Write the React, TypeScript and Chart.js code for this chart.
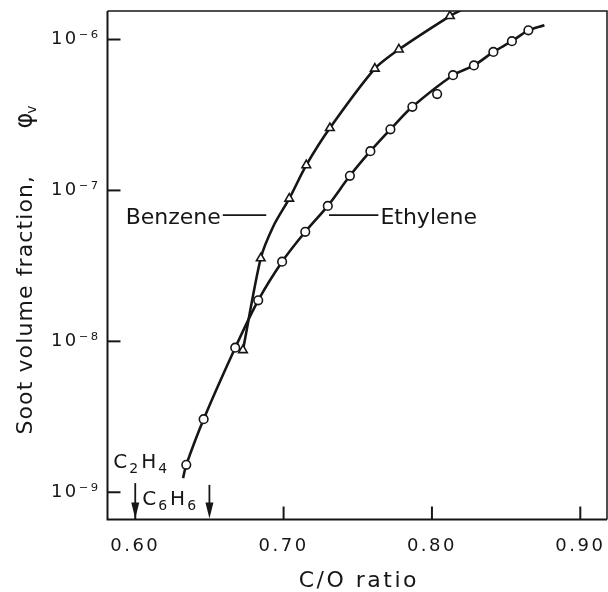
import React, { useEffect, useRef } from 'react';
import { Chart, registerables } from 'chart.js';

Chart.register(...registerables);

// ---- data ----
const ethyleneX = [0.6344, 0.6461, 0.6674, 0.6829, 0.699, 0.7146, 0.7298, 0.7447, 0.7585, 0.772, 0.7868, 0.8035, 0.8142, 0.8283, 0.8414, 0.8539, 0.865];
const ethyleneY = [1.52e-9, 3.05e-9, 9.08e-9, 1.87e-8, 3.37e-8, 5.32e-8, 7.9e-8, 1.25e-7, 1.82e-7, 2.54e-7, 3.58e-7, 4.35e-7, 5.8e-7, 6.73e-7, 8.27e-7, 9.75e-7, 1.15e-6];
const benzeneX = [0.6726, 0.6846, 0.7038, 0.7153, 0.7312, 0.7615, 0.7777, 0.8121];
const benzeneY = [8.75e-9, 3.55e-8, 8.83e-8, 1.47e-7, 2.59e-7, 6.41e-7, 8.59e-7, 1.43e-6];

// smooth fitted curves drawn through the data
const ethyleneCurveX = [0.6322, 0.6344, 0.6461, 0.6674, 0.6829, 0.699, 0.7146, 0.7298, 0.7447, 0.7585, 0.772, 0.7868, 0.8142, 0.8283, 0.8414, 0.8539, 0.865, 0.8758];
const ethyleneCurveY = [1.24e-9, 1.52e-9, 3.05e-9, 9.08e-9, 1.87e-8, 3.37e-8, 5.32e-8, 7.9e-8, 1.25e-7, 1.82e-7, 2.54e-7, 3.58e-7, 5.8e-7, 6.73e-7, 8.27e-7, 9.75e-7, 1.15e-6, 1.245e-6];
const benzeneCurveX = [0.6726, 0.6846, 0.6935, 0.7038, 0.7153, 0.7312, 0.7615, 0.7777, 0.8121, 0.8195];
const benzeneCurveY = [8.75e-9, 3.55e-8, 5.9e-8, 8.83e-8, 1.47e-7, 2.59e-7, 6.41e-7, 8.59e-7, 1.43e-6, 1.56e-6];

// axes
const xMin = 0.5813;
const xMax = 0.918;
const yMin = 6.6e-10;
const yMax = 1.545e-6;
const xTicks = [0.6, 0.7, 0.8, 0.9];
const xTickLabels = ['0.60', '0.70', '0.80', '0.90'];
const yTicks = [1e-9, 1e-8, 1e-7, 1e-6];
const yTickLabels = ['10⁻⁹', '10⁻⁸', '10⁻⁷', '10⁻⁶'];
const xTitle = 'C/O ratio';
const yTitle = 'Soot volume fraction,';

// annotations (data space)
const onsetArrowX = [0.6, 0.65];
const onsetArrowTopY = [1.15e-9, 1.12e-9];
const leaderY = 6.86e-8;
const benzeneLeader = [0.659, 0.6883];
const ethyleneLeader = [0.7306, 0.7639];
const c2h4Anchor = { x: 0.5852, y: 1.45e-9 };
const c6h6Anchor = { x: 0.6047, y: 8.24e-10 };
const xTitleCenter = 0.7507;

const INK = '#161616';
const FONT = '"DejaVu Sans", sans-serif';

function drawFormula(ctx: CanvasRenderingContext2D, parts: [string, boolean][], x: number, y: number) {
  let cx = x;
  for (const [t, sub] of parts) {
    ctx.font = sub ? `14px ${FONT}` : `20px ${FONT}`;
    ctx.fillText(t, cx, sub ? y + 5 : y);
    cx += ctx.measureText(t).width + (sub ? 2 : 1);
  }
}

const decorPlugin = {
  id: 'decor',
  beforeDraw(chart: any) {
    (chart.ctx as any).letterSpacing = '2.5px';
  },
  afterDraw(chart: any) {
    const ctx: CanvasRenderingContext2D = chart.ctx;
    const a = chart.chartArea;
    const xs = chart.scales.x;
    const ys = chart.scales.y;
    ctx.save();
    (ctx as any).letterSpacing = '0px';
    ctx.strokeStyle = INK;
    ctx.fillStyle = INK;
    ctx.lineCap = 'butt';

    // frame
    ctx.lineWidth = 2;
    ctx.beginPath();
    ctx.moveTo(a.left, a.top);
    ctx.lineTo(a.left, a.bottom);
    ctx.lineTo(a.right, a.bottom);
    ctx.stroke();
    ctx.lineWidth = 1.5;
    ctx.beginPath();
    ctx.moveTo(a.left, a.top);
    ctx.lineTo(a.right, a.top);
    ctx.lineTo(a.right, a.bottom);
    ctx.stroke();

    // inward tick marks
    ctx.lineWidth = 2;
    for (const v of xTicks) {
      const px = xs.getPixelForValue(v);
      ctx.beginPath();
      ctx.moveTo(px, a.bottom);
      ctx.lineTo(px, a.bottom - 13);
      ctx.stroke();
    }
    for (const v of yTicks) {
      const py = ys.getPixelForValue(v);
      ctx.beginPath();
      ctx.moveTo(a.left, py);
      ctx.lineTo(a.left + 13, py);
      ctx.stroke();
    }

    // onset arrows
    onsetArrowX.forEach((v, i) => {
      const px = xs.getPixelForValue(v);
      const top = ys.getPixelForValue(onsetArrowTopY[i]);
      const tip = a.bottom - 1;
      ctx.lineWidth = 1.8;
      ctx.beginPath();
      ctx.moveTo(px, top);
      ctx.lineTo(px, tip - 10);
      ctx.stroke();
      ctx.beginPath();
      ctx.moveTo(px - 4, tip - 16);
      ctx.lineTo(px + 4, tip - 16);
      ctx.lineTo(px, tip);
      ctx.closePath();
      ctx.fill();
    });

    // leaders
    const ly = ys.getPixelForValue(leaderY);
    ctx.lineWidth = 1.8;
    const bx0 = xs.getPixelForValue(benzeneLeader[0]);
    const bx1 = xs.getPixelForValue(benzeneLeader[1]);
    const ex0 = xs.getPixelForValue(ethyleneLeader[0]);
    const ex1 = xs.getPixelForValue(ethyleneLeader[1]);
    ctx.beginPath();
    ctx.moveTo(bx0, ly);
    ctx.lineTo(bx1, ly);
    ctx.moveTo(ex0, ly);
    ctx.lineTo(ex1, ly);
    ctx.stroke();

    ctx.font = `22px ${FONT}`;
    ctx.textBaseline = 'alphabetic';
    ctx.textAlign = 'right';
    ctx.fillText('Benzene', bx0 - 2, ly + 8.5);
    ctx.textAlign = 'left';
    ctx.fillText('Ethylene', ex1 + 2, ly + 8.5);

    // formulas
    (ctx as any).letterSpacing = '1px';
    drawFormula(ctx, [['C', false], ['2', true], ['H', false], ['4', true]], xs.getPixelForValue(c2h4Anchor.x), ys.getPixelForValue(c2h4Anchor.y));
    drawFormula(ctx, [['C', false], ['6', true], ['H', false], ['6', true]], xs.getPixelForValue(c6h6Anchor.x), ys.getPixelForValue(c6h6Anchor.y));

    // x title
    (ctx as any).letterSpacing = '2.5px';
    ctx.font = `22px ${FONT}`;
    ctx.textAlign = 'center';
    ctx.fillText(xTitle, xs.getPixelForValue(xTitleCenter), a.bottom + 67);

    // y title (rotated)
    ctx.save();
    ctx.translate(31.5, a.bottom - 85);
    ctx.rotate(-Math.PI / 2);
    ctx.textAlign = 'left';
    (ctx as any).letterSpacing = '1.1px';
    ctx.font = `22px ${FONT}`;
    ctx.fillText(yTitle, 0, 0);
    (ctx as any).letterSpacing = '0px';
    ctx.font = `24px ${FONT}`;
    ctx.fillText('φ', 306, 0);
    const pw = ctx.measureText('φ').width;
    ctx.font = `14px ${FONT}`;
    ctx.fillText('v', 306 + pw - 1, 4);
    ctx.restore();

    ctx.restore();
  },
};

export default function App() {
  const ref = useRef<HTMLCanvasElement | null>(null);
  useEffect(() => {
    document.body.style.margin = '0';
    const canvas = ref.current;
    if (!canvas) return;
    const pts = (xs: number[], ys: number[]) => xs.map((x, i) => ({ x, y: ys[i] }));
    const chart = new Chart(canvas, {
      type: 'line',
      data: {
        datasets: [
          {
            label: 'Ethylene',
            data: pts(ethyleneX, ethyleneY),
            showLine: false,
            pointStyle: 'circle',
            pointRadius: 4.3,
            pointBackgroundColor: '#ffffff',
            pointBorderColor: INK,
            pointBorderWidth: 1.6,
          },
          {
            label: 'Benzene',
            data: pts(benzeneX, benzeneY),
            showLine: false,
            pointStyle: 'triangle',
            pointRadius: 5,
            pointBackgroundColor: '#ffffff',
            pointBorderColor: INK,
            pointBorderWidth: 1.6,
          },
          {
            label: 'Ethylene fit',
            data: pts(ethyleneCurveX, ethyleneCurveY),
            borderColor: INK,
            borderWidth: 2.6,
            pointRadius: 0,
            tension: 0.3,
            fill: false,
          },
          {
            label: 'Benzene fit',
            data: pts(benzeneCurveX, benzeneCurveY),
            borderColor: INK,
            borderWidth: 2.6,
            pointRadius: 0,
            tension: 0.25,
            fill: false,
          },
        ],
      },
      options: {
        responsive: false,
        animation: false,
        events: [],
        layout: { autoPadding: false, padding: { left: 0, right: 1, top: 11, bottom: 0 } },
        plugins: { legend: { display: false }, tooltip: { enabled: false } },
        scales: {
          x: {
            type: 'linear',
            min: xMin,
            max: xMax,
            afterBuildTicks: (s: any) => {
              s.ticks = xTicks.map((value) => ({ value }));
            },
            afterFit: (s: any) => {
              s.height = 72.5;
              s.paddingLeft = 0;
              s.paddingRight = 0;
            },
            ticks: {
              color: INK,
              padding: 16,
              font: { family: FONT, size: 18 },
              callback: (v: any) => {
                const i = xTicks.findIndex((t) => Math.abs(t - v) < 1e-9);
                return i >= 0 ? xTickLabels[i] : '';
              },
            },
            grid: { display: false, drawTicks: false },
            border: { display: false },
          },
          y: {
            type: 'logarithmic',
            min: yMin,
            max: yMax,
            afterBuildTicks: (s: any) => {
              s.ticks = yTicks.map((value) => ({ value }));
            },
            afterFit: (s: any) => {
              s.width = 107.5;
              s.paddingTop = 0;
              s.paddingBottom = 0;
            },
            ticks: {
              color: INK,
              padding: 7,
              font: { family: FONT, size: 18 },
              callback: (v: any) => {
                const i = yTicks.findIndex((t) => Math.abs(t - v) / t < 1e-6);
                return i >= 0 ? yTickLabels[i] : '';
              },
            },
            grid: { display: false, drawTicks: false },
            border: { display: false },
          },
        },
      },
      plugins: [decorPlugin],
    } as any);
    return () => chart.destroy();
  }, []);
  return (
    <div style={{ position: 'absolute', left: 0, top: 0, width: 608, height: 592, background: '#fff' }}>
      <canvas ref={ref} width={608} height={592} />
    </div>
  );
}
